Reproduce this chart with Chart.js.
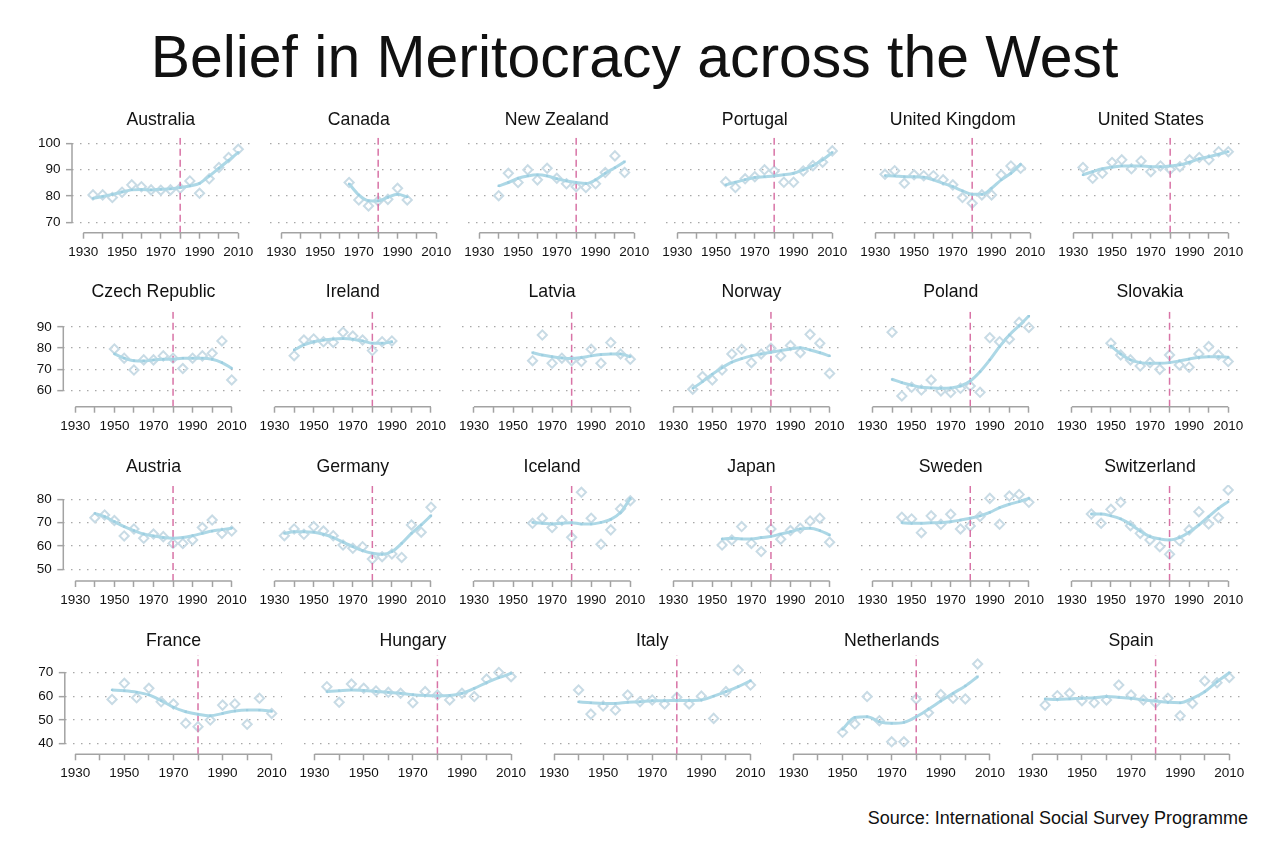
<!DOCTYPE html>
<html>
<head>
<meta charset="utf-8">
<title>Belief in Meritocracy across the West</title>
<script src="https://cdn.jsdelivr.net/npm/chart.js@4.4.1/dist/chart.umd.min.js"></script>
<style>
  html, body { margin: 0; padding: 0; background: #fff; }
  #page { position: relative; width: 1269px; height: 846px; overflow: hidden; font-family: "Liberation Sans", Arial, sans-serif; color: #111; }
  #title { position: absolute; left: 0; top: 28px; width: 1269px; text-align: center; font-size: 58.9px; line-height: 58.9px; white-space: nowrap; }
  #source { position: absolute; right: 21px; top: 809px; font-size: 18px; line-height: 18px; white-space: nowrap; }
  canvas { position: absolute; }
</style>
</head>
<body>
<div id="page">
  <div id="title">Belief in Meritocracy across the West</div>
  <div id="source">Source: International Social Survey Programme</div>
</div>
<script>
// Birth cohorts (x values) and axis ticks
const cohorts = [1935, 1940, 1945, 1950, 1955, 1960, 1965, 1970, 1975, 1980, 1985, 1990, 1995, 2000, 2005, 2010];
const decadeTicks = [1930, 1940, 1950, 1960, 1970, 1980, 1990, 2000, 2010];
const labelledYears = [1930, 1950, 1970, 1990, 2010];
const referenceYear = 1980;

const row1Ticks = [70, 80, 90, 100];
const row2Ticks = [60, 70, 80, 90];
const row3Ticks = [50, 60, 70, 80];
const row4Ticks = [40, 50, 60, 70];

// Observed shares (diamonds) and smoothed trend (line), one value per cohort, null = no data
const australiaObs = [80.4, 80.4, 79.4, 81.4, 84.2, 83.5, 82.3, 82.2, 82.3, 82.9, 85.7, 81.0, 86.5, 90.8, 94.6, 97.7];
const australiaFit = [79.1, 79.8, 80.6, 81.5, 82.3, 82.4, 82.3, 82.5, 82.7, 83.2, 83.8, 84.8, 87.5, 90.5, 93.5, 96.5];
const canadaObs = [null, null, null, null, null, null, 85.1, 78.5, 76.2, 78.1, 78.7, 82.9, 78.5, null, null, null];
const canadaFit = [null, null, null, null, null, null, 84.6, 80.4, 78.2, 78.1, 79.5, 80.6, 79.6, null, null, null];
const newZealandObs = [null, 80.1, 88.6, 85.1, 89.9, 86.1, 90.5, 86.7, 84.6, 83.5, 83.2, 84.6, 88.9, 95.2, 88.9, null];
const newZealandFit = [null, 83.8, 85.1, 86.7, 87.6, 88.0, 87.6, 86.5, 85.7, 85.1, 84.7, 86.1, 88.6, 90.7, 93.0, null];
const portugalObs = [null, null, null, null, 85.4, 83.2, 86.5, 87.3, 89.9, 89.5, 85.2, 85.2, 89.5, 91.5, 92.8, 97.1];
const portugalFit = [null, null, null, null, 84.2, 85.2, 86.2, 87.0, 87.3, 87.6, 88.0, 88.6, 89.9, 91.5, 93.7, 96.5];
const ukObs = [88.2, 89.6, 84.8, 88.0, 87.7, 87.7, 86.1, 84.2, 79.4, 77.2, 80.4, 80.4, 88.0, 91.4, 90.5, null];
const ukFit = [87.7, 87.6, 87.3, 87.3, 87.1, 86.1, 84.8, 83.5, 81.9, 80.6, 80.6, 82.9, 86.1, 88.6, 92.0, null];
const usObs = [90.8, 86.7, 88.6, 92.7, 93.7, 90.3, 93.3, 89.2, 91.4, 90.1, 91.1, 93.7, 94.6, 93.7, 96.8, 96.8];
const usFit = [88.0, 89.2, 90.3, 90.9, 91.4, 91.4, 91.4, 91.1, 91.1, 91.4, 91.8, 92.8, 94.1, 94.9, 95.8, 96.8];

const czechObs = [null, null, null, 79.6, 75.2, 69.6, 74.4, 74.4, 76.3, 75.2, 70.3, 75.2, 76.3, 77.5, 83.4, 64.9];
const czechFit = [null, null, null, 77.2, 75.2, 74.0, 73.9, 74.4, 74.7, 74.8, 75.2, 75.2, 75.2, 74.7, 73.1, 70.4];
const irelandObs = [null, 76.4, 83.8, 84.3, 83.0, 82.7, 87.5, 85.7, 83.8, 78.8, 83.0, 83.4, null, null, null, null];
const irelandFit = [null, 79.1, 81.5, 83.0, 83.8, 84.3, 84.5, 84.2, 83.4, 82.3, 82.3, 83.0, null, null, null, null];
const latviaObs = [null, null, null, null, null, 74.0, 86.2, 72.8, 75.2, 74.0, 73.6, 79.4, 72.8, 82.6, 77.2, 74.7];
const latviaFit = [null, null, null, null, null, 77.8, 76.7, 75.9, 75.3, 75.0, 75.5, 76.3, 76.9, 77.2, 77.2, 75.9];
const norwayObs = [null, 60.5, 66.5, 64.9, 69.6, 77.2, 79.4, 73.1, 77.2, 79.9, 76.3, 81.2, 77.8, 86.5, 82.3, 68.0];
const norwayFit = [null, 60.9, 64.1, 67.6, 70.7, 73.3, 75.0, 76.3, 77.2, 78.0, 78.8, 79.6, 80.2, 79.1, 77.8, 76.3];
const polandObs = [null, 87.5, 57.3, 61.4, 60.1, 64.9, 59.7, 58.9, 60.9, 62.0, 59.0, 84.9, 83.0, 84.2, 92.2, 89.8];
const polandFit = [null, 65.2, 63.6, 62.4, 61.4, 61.1, 60.9, 61.1, 62.0, 64.4, 68.8, 74.4, 80.7, 86.2, 90.6, 95.2];
const slovakiaObs = [null, null, null, 82.3, 76.7, 74.4, 71.5, 73.1, 69.9, 76.7, 72.0, 70.9, 77.2, 80.7, 76.7, 73.6];
const slovakiaFit = [null, null, null, 81.0, 77.2, 74.4, 73.1, 72.8, 72.8, 73.1, 73.9, 74.8, 75.6, 75.9, 75.9, 75.6];

const austriaObs = [null, 72.1, 73.3, 70.9, 64.3, 67.3, 63.3, 65.1, 64.0, 61.1, 61.1, 62.6, 67.9, 71.1, 65.4, 66.4];
const austriaFit = [null, 74.0, 72.6, 70.4, 68.3, 66.6, 65.1, 64.3, 63.6, 63.3, 63.6, 64.4, 65.4, 66.4, 67.0, 67.6];
const germanyObs = [64.4, 67.3, 65.0, 68.3, 66.4, 64.4, 60.4, 59.0, 59.7, 54.4, 55.4, 56.6, 55.1, 69.0, 65.9, 76.6];
const germanyFit = [65.4, 66.1, 66.1, 65.9, 65.0, 63.6, 61.6, 59.7, 58.0, 56.9, 56.4, 57.6, 61.1, 65.4, 69.0, 73.0];
const icelandObs = [null, null, null, null, null, 69.7, 71.9, 67.9, 70.9, 63.7, 83.0, 71.9, 60.7, 66.9, 75.9, 79.4];
const icelandFit = [null, null, null, null, null, 70.1, 69.7, 69.4, 69.7, 70.0, 69.4, 69.4, 70.1, 71.4, 74.3, 80.4];
const japanObs = [null, null, null, null, 60.4, 62.6, 68.3, 61.1, 57.6, 67.3, 62.9, 66.6, 67.6, 70.7, 71.9, 61.6];
const japanFit = [null, null, null, null, 63.0, 63.3, 63.0, 63.0, 63.6, 64.1, 65.1, 66.1, 67.3, 67.6, 66.6, 64.7];
const swedenObs = [null, null, 72.3, 71.6, 65.7, 72.9, 69.3, 73.6, 67.3, 68.6, 72.6, 80.4, 69.3, 81.4, 82.1, 78.7];
const swedenFit = [null, null, 70.0, 69.7, 69.7, 69.9, 70.0, 70.4, 71.1, 71.9, 72.9, 74.4, 76.4, 77.9, 79.0, 80.4];
const switzerlandObs = [null, 73.7, 69.7, 75.7, 78.7, 68.7, 65.4, 62.6, 59.7, 56.4, 62.3, 66.9, 74.7, 69.4, 72.1, 84.0];
const switzerlandFit = [null, 73.7, 73.7, 72.9, 71.6, 69.3, 66.4, 64.0, 63.0, 62.6, 63.6, 65.9, 69.0, 72.6, 76.1, 79.0];

const franceObs = [null, null, 58.7, 65.5, 59.4, 63.4, 57.7, 56.8, 48.6, 47.2, 50.0, 56.3, 56.8, 48.2, 59.2, 52.8];
const franceFit = [null, null, 62.7, 62.4, 61.8, 60.6, 58.2, 55.4, 53.5, 52.4, 51.8, 52.8, 53.8, 54.2, 54.2, 53.7];
const hungaryObs = [64.1, 57.5, 65.2, 63.4, 62.3, 61.7, 61.3, 57.3, 62.0, 60.6, 58.5, 61.3, 59.9, 67.3, 70.1, 68.3];
const hungaryFit = [62.0, 62.4, 62.7, 62.5, 62.1, 61.7, 61.3, 60.7, 60.4, 60.3, 60.4, 61.3, 63.4, 65.8, 67.9, 69.7];
const italyObs = [null, 62.7, 52.5, 55.9, 54.2, 60.6, 57.7, 58.5, 56.8, 59.6, 56.8, 60.1, 50.7, 62.0, 71.1, 64.8];
const italyFit = [null, 57.7, 57.3, 57.0, 57.0, 57.5, 57.7, 58.2, 58.2, 58.3, 58.3, 58.5, 60.1, 62.0, 64.1, 66.6];
const netherlandsObs = [null, null, null, 44.8, 48.3, 59.9, 49.7, 40.8, 40.8, 58.9, 53.1, 60.8, 59.2, 58.9, 73.7, null];
const netherlandsFit = [null, null, null, 46.1, 51.1, 51.4, 49.3, 48.6, 49.0, 51.4, 54.6, 58.0, 61.3, 64.4, 68.3, null];
const spainObs = [56.3, 60.3, 61.3, 58.2, 57.3, 58.5, 64.8, 60.6, 58.5, 57.3, 59.2, 51.8, 57.0, 66.5, 65.8, 68.0];
const spainFit = [58.9, 58.7, 58.9, 59.2, 59.4, 59.9, 59.6, 59.2, 58.5, 58.0, 57.5, 57.3, 59.2, 62.0, 66.2, 70.0];

// Colours
const fitColor = "#add8e6";
const fitPointColor = "#9ccde0";
const obsColor = "#c8dbe5";
const refColor = "#d873a6";
const axisColor = "#a3a3a3";
const gridColor = "#a8a8a8";
const textColor = "#111";

// Row layout in page pixels (plot region of the first panel, panel pitch, padding around 1930..2010)
const rows = [
    { ticks: row1Ticks, yMin: 66.05, yMax: 102.1, top: 137.7, bottom: 232.7, titleY: 120, left: 72, pitch: 198, pad: 11.3, span: 155,
      panels: [["Australia", australiaObs, australiaFit], ["Canada", canadaObs, canadaFit], ["New Zealand", newZealandObs, newZealandFit],
               ["Portugal", portugalObs, portugalFit], ["United Kingdom", ukObs, ukFit], ["United States", usObs, usFit]] },
    { ticks: row2Ticks, yMin: 52.2, yMax: 97.25, top: 311.7, bottom: 406.7, titleY: 292.5, left: 63.3, pitch: 199.3, pad: 12, span: 156.4,
      panels: [["Czech Republic", czechObs, czechFit], ["Ireland", irelandObs, irelandFit], ["Latvia", latviaObs, latviaFit],
               ["Norway", norwayObs, norwayFit], ["Poland", polandObs, polandFit], ["Slovakia", slovakiaObs, slovakiaFit]] },
    { ticks: row3Ticks, yMin: 44.98, yMax: 86.13, top: 485, bottom: 581, titleY: 466.8, left: 63.3, pitch: 199.3, pad: 12, span: 156.4,
      panels: [["Austria", austriaObs, austriaFit], ["Germany", germanyObs, germanyFit], ["Iceland", icelandObs, icelandFit],
               ["Japan", japanObs, japanFit], ["Sweden", swedenObs, swedenFit], ["Switzerland", switzerlandObs, switzerlandFit]] },
    { ticks: row4Ticks, yMin: 35.52, yMax: 77.48, top: 655, bottom: 754.3, titleY: 641.2, left: 64.8, pitch: 239.4, pad: 10.4, span: 196.5,
      panels: [["France", franceObs, franceFit], ["Hungary", hungaryObs, hungaryFit], ["Italy", italyObs, italyFit],
               ["Netherlands", netherlandsObs, netherlandsFit], ["Spain", spainObs, spainFit]] }
];

const titleSize = 17.7;
const tickSize = 13.5;
const yAxisWidth = 42;
const sidePad = 14;
const xAxisHeight = 30;

Chart.defaults.font.family = '"Liberation Sans", Arial, sans-serif';
Chart.defaults.color = textColor;

// Axis lines only span the first to the last tick, like the original
const axisLines = {
    id: "axisLines",
    afterDraw(chart, args, opts) {
        const { ctx, chartArea, scales } = chart;
        ctx.save();
        ctx.strokeStyle = axisColor;
        ctx.lineWidth = 1.5;
        ctx.beginPath();
        ctx.moveTo(scales.x.getPixelForValue(decadeTicks[0]), chartArea.bottom);
        ctx.lineTo(scales.x.getPixelForValue(decadeTicks[decadeTicks.length - 1]), chartArea.bottom);
        if (opts.showY) {
            const t = scales.y.ticks;
            ctx.moveTo(chartArea.left, scales.y.getPixelForValue(t[0].value));
            ctx.lineTo(chartArea.left, scales.y.getPixelForValue(t[t.length - 1].value));
        }
        ctx.stroke();
        ctx.restore();
    }
};

function toPoints(values) {
    return cohorts.map((x, i) => ({ x: x, y: values[i] })).filter(p => p.y !== null);
}

function makePanel(row, index, name, obs, fit) {
    const page = document.getElementById("page");
    const isFirst = index === 0;
    const yW = isFirst ? yAxisWidth : 0;

    const plotLeft = row.left + row.pitch * index;
    const plotRight = plotLeft + row.span + 2 * row.pad;
    const yearsPerPx = 80 / row.span;

    const canvasLeft = Math.floor(plotLeft - yW - sidePad);
    const canvasRight = Math.ceil(plotRight + sidePad);
    const titleLH = titleSize * 1.2;
    const canvasTop = Math.floor(row.titleY - titleLH / 2 - 2);
    const canvasBottom = Math.ceil(row.bottom + xAxisHeight + 2);

    const canvas = document.createElement("canvas");
    canvas.width = canvasRight - canvasLeft;
    canvas.height = canvasBottom - canvasTop;
    canvas.style.left = canvasLeft + "px";
    canvas.style.top = canvasTop + "px";
    canvas.style.width = canvas.width + "px";
    canvas.style.height = canvas.height + "px";
    page.appendChild(canvas);

    new Chart(canvas.getContext("2d"), {
        type: "line",
        data: {
            datasets: [
                {
                    data: toPoints(fit),
                    borderColor: fitColor,
                    borderWidth: 3,
                    cubicInterpolationMode: "monotone",
                    pointStyle: "rect",
                    pointRadius: 1.6,
                    pointBorderWidth: 0,
                    pointBackgroundColor: fitPointColor,
                    fill: false
                },
                {
                    data: [{ x: referenceYear, y: row.yMin }, { x: referenceYear, y: row.yMax }],
                    borderColor: refColor,
                    borderWidth: 1.5,
                    borderDash: [7, 4],
                    pointRadius: 0,
                    fill: false
                },
                {
                    data: toPoints(obs),
                    showLine: false,
                    pointStyle: "rectRot",
                    pointRadius: 4.6,
                    pointBorderWidth: 2,
                    pointBorderColor: obsColor,
                    pointBackgroundColor: "rgba(0,0,0,0)",
                    borderColor: obsColor
                }
            ]
        },
        options: {
            responsive: false,
            animation: false,
            devicePixelRatio: 1,
            layout: {
                padding: {
                    left: plotLeft - yW - canvasLeft,
                    right: canvasRight - plotRight,
                    top: 0,
                    bottom: canvasBottom - row.bottom - xAxisHeight
                }
            },
            plugins: {
                legend: { display: false },
                tooltip: { enabled: false },
                title: {
                    display: true,
                    text: name,
                    fullSize: false,
                    color: textColor,
                    font: { size: titleSize, weight: "normal" },
                    padding: { top: row.titleY - titleLH / 2 - canvasTop, bottom: row.top - (row.titleY + titleLH / 2) }
                },
                axisLines: { showY: isFirst }
            },
            scales: {
                x: {
                    type: "linear",
                    bounds: "data",
                    min: decadeTicks[0] - row.pad * yearsPerPx,
                    max: decadeTicks[decadeTicks.length - 1] + row.pad * yearsPerPx,
                    afterBuildTicks: s => { s.ticks = decadeTicks.map(v => ({ value: v })); },
                    afterFit: s => { s.height = xAxisHeight; },
                    border: { display: false },
                    grid: { drawOnChartArea: false, drawTicks: true, tickLength: 6, tickWidth: 1.5, tickColor: axisColor, color: axisColor },
                    ticks: {
                        autoSkip: false, maxRotation: 0, minRotation: 0, padding: 5,
                        font: { size: tickSize }, color: textColor,
                        callback: v => labelledYears.includes(v) ? String(v) : ""
                    }
                },
                y: {
                    type: "linear",
                    bounds: "data",
                    min: row.yMin,
                    max: row.yMax,
                    afterBuildTicks: s => { s.ticks = row.ticks.map(v => ({ value: v })); },
                    afterFit: s => { s.width = yW; },
                    border: { display: false, dash: [1.5, 6.5] },
                    grid: { drawOnChartArea: true, drawTicks: isFirst, tickLength: 6, tickWidth: 1.5, tickColor: axisColor, color: gridColor, lineWidth: 1.3 },
                    ticks: { display: isFirst, padding: 5.5, font: { size: tickSize }, color: textColor }
                }
            }
        },
        plugins: [axisLines]
    });
}

document.addEventListener("DOMContentLoaded", () => {
    rows.forEach(row => {
        row.panels.forEach((p, i) => makePanel(row, i, p[0], p[1], p[2]));
    });
});
</script>
</body>
</html>
